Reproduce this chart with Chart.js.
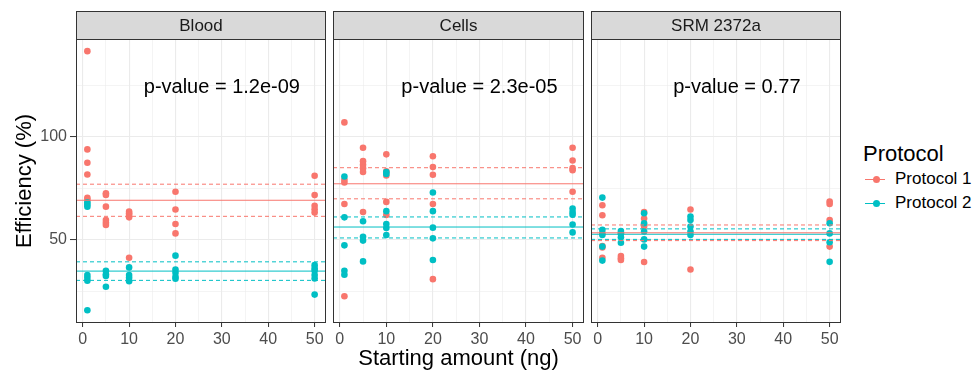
<!DOCTYPE html>
<html>
<head>
<meta charset="utf-8">
<script src="https://cdn.jsdelivr.net/npm/chart.js@4.4.1/dist/chart.umd.min.js"></script>
<style>
  body { margin: 0; background: #fff; font-family: "Liberation Sans", Arial, sans-serif; }
  #wrap { position: relative; width: 978px; height: 372px; overflow: hidden; }
  canvas { position: absolute; top: 0; }
  #xtitle { position: absolute; left: 76px; width: 765px; top: 345px; line-height: 26px;
            font-size: 22px; text-align: center; color: #000; }
  #legend { position: absolute; left: 863px; top: 141px; color: #000; }
  #legend .ttl { font-size: 22px; line-height: 26px; }
  #legend .item { position: relative; height: 24px; font-size: 17px; line-height: 24px; padding-left: 32px; }
  #legend .key { position: absolute; left: 2px; top: 11.5px; width: 20px; height: 1px; }
  #legend .dot { position: absolute; left: 8px; top: -3px; width: 7px; height: 7px; border-radius: 50%; }
</style>
</head>
<body>
<div id="wrap">
  <canvas id="c0" width="338" height="372" style="left:0px"></canvas>
  <canvas id="c1" width="275" height="372" style="left:321px"></canvas>
  <canvas id="c2" width="274" height="372" style="left:579px"></canvas>
  <div id="xtitle">Starting amount (ng)</div>
  <div id="legend"></div>
</div>
<script>
// facets
const panels  = ['Blood', 'Cells', 'SRM 2372a'];
const pLabels = ['p-value = 1.2e-09', 'p-value = 2.3e-05', 'p-value = 0.77'];
const pPos    = [30, 124];   // x, y of the p-value text (data units)

const protocols = ['Protocol 1', 'Protocol 2'];

// [starting amount, efficiency]
const bloodP1 = [[1,141.7],[1,94.0],[1,87.5],[1,81.8],[1,70.5],[1,69.5],
                 [5,72.7],[5,71.9],[5,66.2],[5,59.7],[5,58.4],[5,57.3],
                 [10,63.8],[10,63.0],[10,62.2],[10,61.0],[10,41.4],
                 [20,73.4],[20,64.8],[20,57.8],[20,53.2],
                 [50,81.2],[50,71.8],[50,66.6],[50,64.9],[50,63.3]];
const bloodP2 = [[1,68.3],[1,67.2],[1,66.2],[1,33.0],[1,31.7],[1,30.2],[1,15.9],
                 [5,35.1],[5,33.4],[5,32.5],[5,27.3],
                 [10,36.7],[10,33.0],[10,31.7],[10,30.0],
                 [20,42.4],[20,35.7],[20,34.1],[20,32.1],[20,31.2],
                 [50,37.8],[50,36.2],[50,35.1],[50,33.0],[50,31.3],[50,23.5]];
const cellsP1 = [[1,107.1],[1,79.2],[1,77.9],[1,67.5],[1,22.7],
                 [5,94.8],[5,88.3],[5,86.5],[5,84.9],[5,83.0],[5,63.6],
                 [10,91.6],[10,83.3],[10,81.3],[10,68.5],[10,62.2],
                 [20,90.7],[20,85.4],[20,81.7],[20,67.5],[20,31.0],
                 [50,94.8],[50,88.6],[50,84.9],[50,83.9],[50,73.4]];
const cellsP2 = [[1,80.8],[1,61.0],[1,47.4],[1,35.1],[1,33.1],
                 [5,59.1],[5,51.6],[5,49.7],[5,39.6],
                 [10,83.0],[10,82.1],[10,64.0],[10,57.8],[10,55.8],[10,52.4],
                 [20,73.1],[20,64.0],[20,56.0],[20,50.8],[20,40.3],
                 [50,65.3],[50,63.6],[50,62.3],[50,57.5],[50,53.7]];
const srmP1   = [[1,66.9],[1,62.0],[1,53.2],[1,47.1],[1,46.4],[1,41.4],
                 [5,53.2],[5,42.2],[5,41.1],[5,40.3],
                 [10,63.6],[10,60.4],[10,56.5],[10,39.3],
                 [20,64.8],[20,35.7],
                 [50,68.7],[50,67.5],[50,59.7],[50,46.8]];
const srmP2   = [[1,70.6],[1,54.9],[1,52.4],[1,46.8],[1,40.0],
                 [5,54.4],[5,53.2],[5,51.3],[5,48.7],
                 [10,63.0],[10,58.1],[10,54.1],[10,50.3],[10,46.8],
                 [20,61.4],[20,59.7],[20,56.5],[20,54.1],[20,52.4],
                 [50,58.1],[50,53.2],[50,48.9],[50,39.4]];

const pointsP1 = [bloodP1, cellsP1, srmP1];
const pointsP2 = [bloodP2, cellsP2, srmP2];

// mean and interval lines per facet
const meanP1 = [69.3, 77.3, 53.5];
const lowP1  = [61.5, 70.0, 49.7];
const highP1 = [77.1, 85.1, 57.3];
const meanP2 = [34.9, 56.3, 52.8];
const lowP2  = [30.4, 51.0, 50.3];
const highP2 = [39.4, 61.2, 55.4];

const X_MIN = -1.45, X_MAX = 52.45;
const Y_MIN = 9.7,   Y_MAX = 147.6;
const RED = '#F8766D', TEAL = '#00BFC4';
const FONT = '"Liberation Sans", Arial, sans-serif';

const stripPlugin = {
    id: 'strip',
    afterDraw(chart, args, opts) {
        const { ctx, chartArea: a } = chart;
        const w = a.right - a.left;
        ctx.save();
        ctx.fillStyle = '#d9d9d9';
        ctx.fillRect(a.left, 11, w, a.top - 11);
        ctx.strokeStyle = '#333333';
        ctx.lineWidth = 1;
        ctx.strokeRect(a.left + 0.5, 11.5, w - 1, a.top - 11);
        ctx.strokeRect(a.left + 0.5, a.top + 0.5, w - 1, a.bottom - a.top - 1);
        ctx.fillStyle = '#1a1a1a';
        ctx.font = `17px ${FONT}`;
        ctx.textAlign = 'center';
        ctx.textBaseline = 'middle';
        ctx.fillText(opts.text, a.left + w / 2, (11 + a.top) / 2 + 1);

        const xs = chart.scales.x, ys = chart.scales.y;
        ctx.fillStyle = '#000';
        ctx.font = `20px ${FONT}`;
        ctx.fillText(opts.pvalue, xs.getPixelForValue(pPos[0]), ys.getPixelForValue(pPos[1]));
        ctx.restore();
    },
};

function hline(v, color, dashed) {
    return {
        type: 'line',
        data: [{ x: X_MIN, y: v }, { x: X_MAX, y: v }],
        borderColor: color,
        borderWidth: 1,
        borderDash: dashed ? [4, 3] : [],
        pointRadius: 0,
        fill: false,
        order: 0,
    };
}

function dots(arr, color, order) {
    return {
        type: 'scatter',
        data: arr.map(([x, y]) => ({ x, y })),
        backgroundColor: color,
        borderWidth: 0,
        pointRadius: 3.3,
        order,
    };
}

function renderPanel(i) {
    const withY = i === 0;
    const major = v => v % 10 === 0;
    new Chart(document.getElementById('c' + i), {
        type: 'scatter',
        data: {
            datasets: [
                dots(pointsP1[i], RED, 2),
                dots(pointsP2[i], TEAL, 1),
                hline(highP1[i], RED, true),
                hline(meanP1[i], RED, false),
                hline(lowP1[i], RED, true),
                hline(highP2[i], TEAL, true),
                hline(meanP2[i], TEAL, false),
                hline(lowP2[i], TEAL, true),
            ],
        },
        options: {
            responsive: false,
            animation: false,
            devicePixelRatio: 1,
            // side padding leaves room for the edge tick labels so the plot area stays put
            layout: { padding: { top: 39, left: withY ? 0 : 12, right: 12, bottom: 0 } },
            scales: {
                x: {
                    type: 'linear',
                    min: X_MIN,
                    max: X_MAX,
                    afterFit: s => { s.height = 49; },
                    border: { display: false },
                    grid: {
                        color: '#ebebeb',
                        lineWidth: c => (c.tick && major(c.tick.value)) ? 1.1 : 0.55,
                        tickColor: c => (c.tick && major(c.tick.value)) ? '#333333' : 'rgba(0,0,0,0)',
                        tickLength: 4,
                        tickWidth: 1,
                    },
                    ticks: {
                        stepSize: 5,
                        includeBounds: false,
                        autoSkip: false,
                        maxRotation: 0,
                        padding: 3,
                        color: '#4d4d4d',
                        font: { size: 16, family: FONT },
                        callback: v => major(v) ? v : '',
                    },
                },
                y: {
                    type: 'linear',
                    min: Y_MIN,
                    max: Y_MAX,
                    afterFit: s => { s.width = withY ? 76 : 0; },
                    border: { display: false },
                    grid: {
                        color: '#ebebeb',
                        lineWidth: c => (c.tick && c.tick.value % 50 === 0) ? 1.1 : 0.55,
                        tickColor: c => (c.tick && c.tick.value % 50 === 0) ? '#333333' : 'rgba(0,0,0,0)',
                        drawTicks: withY,
                        tickLength: 6,
                        tickWidth: 1,
                    },
                    ticks: {
                        display: withY,
                        stepSize: 25,
                        includeBounds: false,
                        padding: 3,
                        color: '#4d4d4d',
                        font: { size: 16, family: FONT },
                        callback: v => v % 50 === 0 ? v : '',
                    },
                    title: {
                        display: withY,
                        text: 'Efficiency (%)',
                        color: '#000',
                        font: { size: 22, family: FONT },
                        padding: { top: 12, bottom: 0 },
                    },
                },
            },
            plugins: {
                legend: { display: false },
                tooltip: { enabled: false },
                strip: { text: panels[i], pvalue: pLabels[i] },
            },
        },
        plugins: [stripPlugin],
    });
}

panels.forEach((p, i) => renderPanel(i));

// legend
const legendColors = [RED, TEAL];
const legend = document.getElementById('legend');
legend.innerHTML = '<div class="ttl">Protocol</div>' + protocols.map((name, k) =>
    `<div class="item"><span class="key" style="background:${legendColors[k]}">` +
    `<span class="dot" style="background:${legendColors[k]}"></span></span>${name}</div>`
).join('');
</script>
</body>
</html>
